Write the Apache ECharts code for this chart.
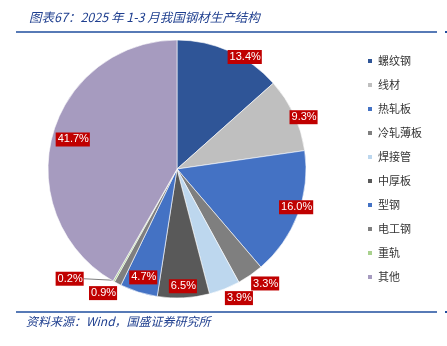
<!DOCTYPE html>
<html>
<head>
<meta charset="utf-8">
<script src="https://cdn.jsdelivr.net/npm/echarts@6/dist/echarts.min.js"></script>
<style>
html,body{margin:0;padding:0;background:#fff;}
#chart{width:447px;height:346px;}
</style>
</head>
<body>
<div id="chart"></div>
<script>
const titleText = '图表67：2025 年 1-3 月我国钢材生产结构';
const sourceText = '资料来源：Wind，国盛证券研究所';
const categories = ['螺纹钢', '线材', '热轧板', '冷轧薄板', '焊接管', '中厚板', '型钢', '电工钢', '重轨', '其他'];
const shares = [13.4, 9.3, 16.0, 3.3, 3.9, 6.5, 4.7, 0.9, 0.2, 41.7];
const colors = ['#2F5597', '#BFBFBF', '#4472C4', '#7F7F7F', '#BDD7EE', '#595959', '#4472C4', '#7F7F7F', '#A9D18E', '#A69BBF'];
// label placement tweaks (angle shift in degrees, radius factor)
const labelAngleShift = [7, 2.7, -2.8, -3, -4, 0, 0, 3.4, 15, 1];
const labelRadius = [1.015, 1.06, 0.97, 1.12, 1.11, 0.91, 0.88, 1.12, 1.19, 0.84];

const CX = 177, CY = 169, R = 129;
const total = shares.reduce((a, b) => a + b, 0);
const midAngles = [];
let acc = 0;
shares.forEach(v => { midAngles.push((acc + v / 2) / total * 360); acc += v; });

const chart = echarts.init(document.getElementById('chart'), null, {renderer: 'canvas'});
const blue = '#1F4E9E';
chart.setOption({
  animation: false,
  backgroundColor: '#fff',
  title: {
    text: titleText,
    left: 24, top: 6,
    textStyle: {fontSize: 12.5, fontStyle: 'italic', fontWeight: 'normal', color: '#1F3F8F', fontFamily: '"Noto Sans CJK SC", "Liberation Sans", sans-serif'}
  },
  legend: {
    orient: 'vertical',
    left: 361, top: 49,
    itemWidth: 6, itemHeight: 6,
    itemGap: 10,
    icon: 'rect',
    data: categories,
    textStyle: {fontSize: 11, color: '#333333', lineHeight: 14, fontFamily: '"Noto Sans CJK SC", sans-serif'}
  },
  graphic: [
    {type: 'line', shape: {x1: 16, y1: 32, x2: 437, y2: 32}, style: {stroke: blue, lineWidth: 1.5}},
    {type: 'line', shape: {x1: 16, y1: 312, x2: 437, y2: 312}, style: {stroke: blue, lineWidth: 1.5}},
    {type: 'rect', shape: {x: 445, y: 31, width: 2, height: 2}, style: {fill: blue}},
    {type: 'rect', shape: {x: 445, y: 311, width: 2, height: 2}, style: {fill: blue}},
    {type: 'text', left: 26, top: 315, style: {text: sourceText, fill: '#1F3F8F', font: 'italic 12px "Noto Sans CJK SC", "Liberation Sans", sans-serif'}}
  ],
  series: [{
    type: 'pie',
    center: [CX, CY],
    radius: R,
    startAngle: 90,
    clockwise: true,
    avoidLabelOverlap: false,
    minShowLabelAngle: 0,
    itemStyle: {borderColor: '#ffffff', borderWidth: 0.6},
    emphasis: {disabled: true},
    label: {
      show: true,
      position: 'outside',
      formatter: p => p.value.toFixed(1) + '%',
      backgroundColor: '#C00000',
      color: '#ffffff',
      fontSize: 11,
      lineHeight: 12,
      padding: [1, 1, 1, 2],
      fontFamily: '"Liberation Sans", Arial, sans-serif'
    },
    labelLine: {show: false},
    labelLayout: function (params) {
      const i = params.dataIndex;
      const a = (midAngles[i] + labelAngleShift[i]) * Math.PI / 180;
      const x = CX + R * labelRadius[i] * Math.sin(a);
      const y = CY - R * labelRadius[i] * Math.cos(a);
      const out = {x: x, y: y, align: 'center', verticalAlign: 'middle'};
      if (i === 8) {
        const m = midAngles[i] * Math.PI / 180;
        const ex = CX + R * 0.99 * Math.sin(m), ey = CY - R * 0.99 * Math.cos(m);
        const lx = x + params.labelRect.width / 2;
        out.labelLinePoints = [[ex, ey], [(ex + lx) / 2, (ey + y) / 2], [lx, y]];
      }
      return out;
    },
    data: categories.map((c, i) => ({
      name: c,
      value: shares[i],
      itemStyle: {color: colors[i]},
      labelLine: i === 8 ? {show: true, length: 10, length2: 10, lineStyle: {color: '#7F7F7F', width: 1}} : {show: false}
    }))
  }]
});
</script>
</body>
</html>
